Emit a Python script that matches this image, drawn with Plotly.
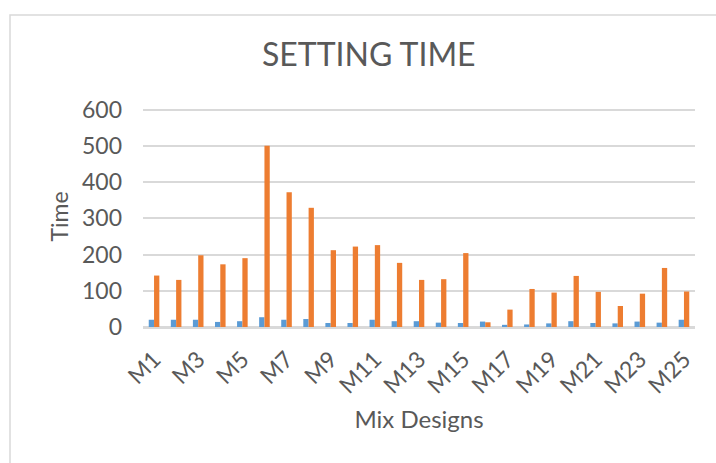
import plotly.graph_objects as go

mixes = [f"M{i}" for i in range(1, 26)]
initial_setting = [20, 20, 20, 14, 16, 27, 20, 22, 11, 11, 20, 16, 16, 12, 11,
                   15, 6, 7, 10, 16, 11, 10, 15, 12, 20]
final_setting = [142, 130, 198, 173, 190, 500, 372, 329, 212, 222, 226, 177, 130,
                 132, 204, 13, 48, 105, 95, 141, 97, 58, 92, 163, 98]
y_ticks = [0, 100, 200, 300, 400, 500, 600]
x_tick_labels = mixes[::2]

FONT = "Lato"
TEXT = "#595959"
GRID = "#d9d9d9"

fig = go.Figure()
fig.add_trace(go.Bar(x=mixes, y=initial_setting, name="Initial",
                     marker=dict(color="#5B9BD5", line=dict(width=0))))
fig.add_trace(go.Bar(x=mixes, y=final_setting, name="Final",
                     marker=dict(color="#ED7D31", line=dict(width=0))))

fig.update_layout(
    width=716, height=463,
    margin=dict(l=143, r=21, t=106, b=136),
    paper_bgcolor="white", plot_bgcolor="white",
    barmode="group", bargap=0.52, bargroupgap=0,
    showlegend=False,
    font=dict(family=FONT, color=TEXT),
    title=dict(text="SETTING TIME", x=0.515, xanchor="center",
               y=1 - 55 / 463, yanchor="middle",
               font=dict(family=FONT, size=32, color=TEXT)),
    xaxis=dict(
        type="category",
        tickmode="array", tickvals=x_tick_labels, ticktext=x_tick_labels,
        tickangle=-45, tickfont=dict(size=23, color=TEXT),
        showgrid=False, showline=True, linecolor=GRID, linewidth=1.5,
        ticks="", ticklabelstandoff=8,
        title=dict(text="Mix Designs", font=dict(size=24, color=TEXT), standoff=14),
    ),
    yaxis=dict(
        range=[0, 610], tickvals=y_ticks,
        tickfont=dict(size=23, color=TEXT),
        showgrid=True, gridcolor=GRID, gridwidth=1.5,
        zeroline=True, zerolinecolor=GRID, zerolinewidth=1.5,
        ticks="", ticklabelstandoff=20,
        title=dict(text="Time", font=dict(size=23, color=TEXT), standoff=6),
    ),
    shapes=[dict(type="rect", xref="paper", yref="paper",
                 x0=(10 - 143) / 552, x1=1.2, y0=-1.0, y1=(327 - 15) / 221,
                 line=dict(color=GRID, width=1.5), fillcolor="rgba(0,0,0,0)",
                 layer="below")],
)

fig.write_html("out.html")
